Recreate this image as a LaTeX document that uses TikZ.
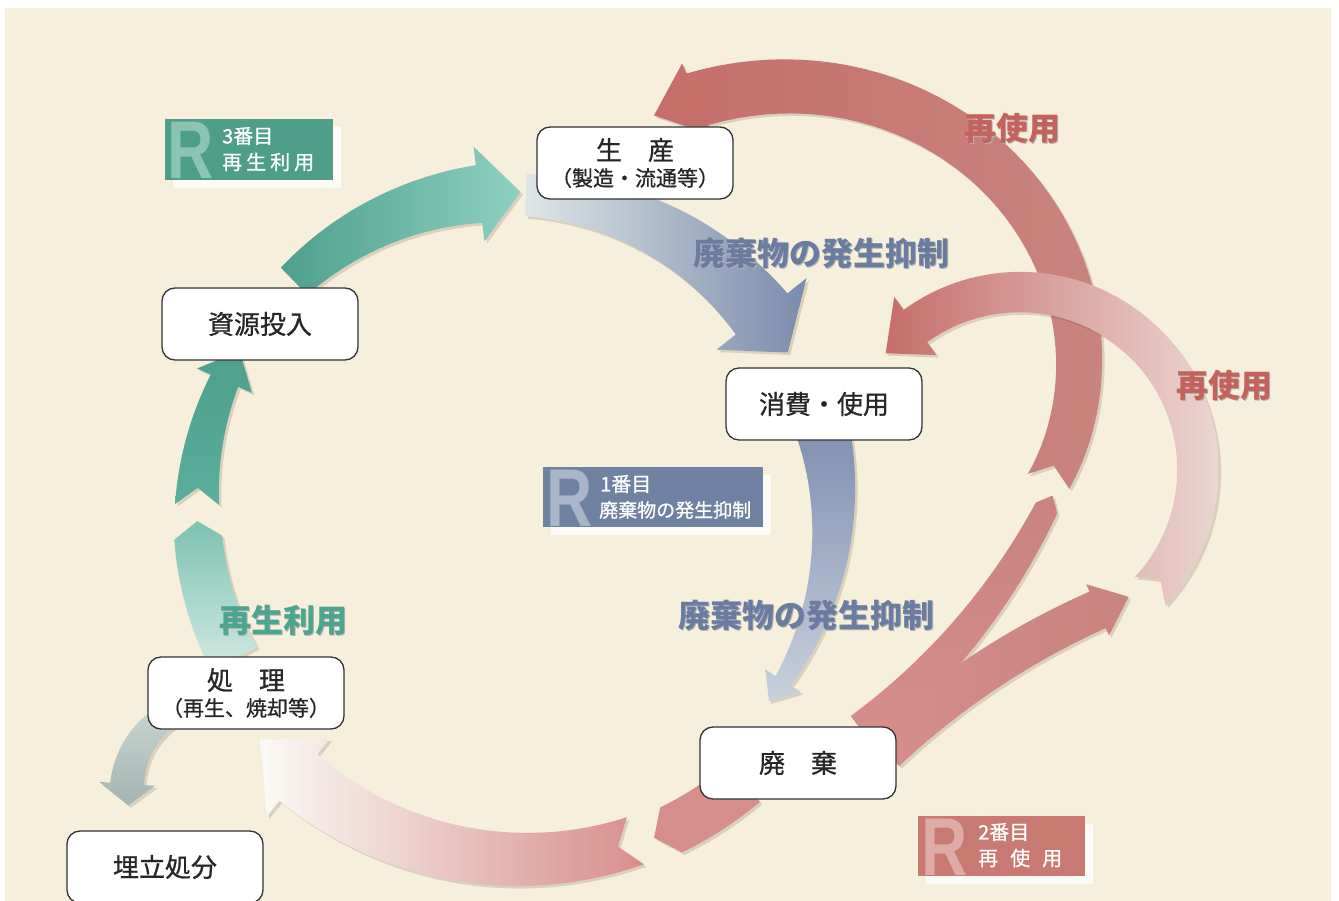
\documentclass[tikz,border=0pt]{standalone}
\usepackage{fontspec}
\newfontfamily\jp{Noto Sans CJK JP}
\newfontfamily\jpm{Noto Sans CJK JP}[FakeBold=0.8]
\newfontfamily\rfont{Liberation Sans}
\definecolor{bg}{HTML}{F6EFDB}
\definecolor{gA}{HTML}{4E9F8C}
\definecolor{gB}{HTML}{8FD0C2}
\definecolor{gC}{HTML}{5AAE9C}
\definecolor{gD}{HTML}{7CC2B2}
\definecolor{gE}{HTML}{D3EAE2}
\definecolor{bA}{HTML}{7A8BAC}
\definecolor{bB}{HTML}{DDE6E6}
\definecolor{bC}{HTML}{C9D1DE}
\definecolor{rA}{HTML}{C66E6A}
\definecolor{rB}{HTML}{E8CCC8}
\definecolor{rC}{HTML}{C9847E}
\definecolor{rD}{HTML}{D68E8A}
\definecolor{rE}{HTML}{EBD6D1}
\definecolor{rW}{HTML}{FBFAF6}
\definecolor{grA}{HTML}{C9D6D2}
\definecolor{grB}{HTML}{A3B5B1}
\definecolor{lblR}{HTML}{C4625C}
\definecolor{lblB}{HTML}{6A7CA0}
\definecolor{lblG}{HTML}{4DA590}
\definecolor{box3}{HTML}{4E9E8A}
\definecolor{box3l}{HTML}{8CC4B4}
\definecolor{box1}{HTML}{6F82A2}
\definecolor{box1l}{HTML}{A9B5C9}
\definecolor{box2}{HTML}{C87A72}
\definecolor{box2l}{HTML}{DEACA5}
% band arrow: cx cy r0 r1 a b w0 w1 style ; globals \Hl (head angle), \Hw (head width), \Nt (tail notch angle)
\def\Hl{5}\def\Hw{60}\def\Nt{0}
\newcommand\band[9]{%
  \pgfmathsetmacro\Bb{(#6>#5) ? (#6-\Hl) : (#6+\Hl)}%
  \pgfmathsetmacro\Ta{(#6>#5) ? (#5+\Nt) : (#5-\Nt)}%
  \pgfmathsetmacro\Dr{((#4)-(#3))/((#6)-(#5))}%
  \pgfmathsetmacro\Dw{((#8)-(#7))/(\Bb-(#5))}%
  \pgfmathsetmacro\Rb{(#3)+\Dr*(\Bb-(#5))}%
  \path[#9] plot[variable=\t,domain=#5:\Bb,samples=50]
     ({#1+((#3)+\Dr*(\t-(#5))+((#7)+\Dw*(\t-(#5)))/2)*cos(\t)},{#2+((#3)+\Dr*(\t-(#5))+((#7)+\Dw*(\t-(#5)))/2)*sin(\t)})
   -- ({#1+(\Rb+\Hw/2)*cos(\Bb)},{#2+(\Rb+\Hw/2)*sin(\Bb)})
   -- ({#1+(#4)*cos(#6)},{#2+(#4)*sin(#6)})
   -- ({#1+(\Rb-\Hw/2)*cos(\Bb)},{#2+(\Rb-\Hw/2)*sin(\Bb)})
   -- plot[variable=\t,domain=\Bb:#5,samples=50]
     ({#1+((#3)+\Dr*(\t-(#5))-((#7)+\Dw*(\t-(#5)))/2)*cos(\t)},{#2+((#3)+\Dr*(\t-(#5))-((#7)+\Dw*(\t-(#5)))/2)*sin(\t)})
   -- ({#1+(#3)*cos(\Ta)},{#2+(#3)*sin(\Ta)}) -- cycle;
}
\begin{document}
\begin{tikzpicture}[x=1pt,y=-1pt,
  box/.style={draw=black!80, line width=1.3pt, rounded corners=13pt, fill=white,
    minimum width=196pt, minimum height=72pt, align=center, inner sep=0pt,
    font=\jpm\fontsize{26}{30}\selectfont, text=black!85},
  lbl/.style={font=\jp\bfseries\fontsize{32}{36}\selectfont, inner sep=0pt},
  lblsh/.style={lbl, text=black!30},
  rbox/.style={minimum width=168pt, minimum height=61pt, inner sep=0pt},
  rlet/.style={font=\rfont\bfseries\fontsize{82}{82}\selectfont, inner sep=0pt, anchor=base west},
  rtxt/.style={font=\jpm\fontsize{20}{23}\selectfont, text=white, inner sep=0pt, anchor=west},
  shd/.style={preaction={fill=black!60!brown, opacity=.16, transform canvas={shift={(2.5pt,-2.5pt)}}}},
]
\useasboundingbox (0,0) rectangle (1339,901);
\fill[white] (0,0) rectangle (1339,901);
\fill[bg] (5,8) rectangle (1331,901);

% ---- bottom red (waste -> treatment)
\def\Hl{3}\def\Hw{50}\def\Nt{0}
\band{515}{510}{356}{356}{50}{67}{50}{50}{shd, fill=rD}
\def\Hl{9}\def\Hw{100}\def\Nt{3}
\band{515}{510}{352}{343}{70}{138}{50}{60}{shd, shade, left color=rW, right color=rD}

% ---- blue arrows
\def\Hl{8.5}\def\Hw{115}\def\Nt{0}
\band{515}{510}{315}{315}{272}{330}{42}{66}{shd, shade, left color=bB, right color=bA}
\def\Hl{4.5}\def\Hw{42}\def\Nt{0}
\band{515}{510}{318}{318}{343}{397}{56}{18}{shd, shade, top color=bA, bottom color=bC}

% ---- green arrows
\def\Hl{3}\def\Hw{48}\def\Nt{0}
\band{515}{510}{318}{318}{152}{178}{52}{48}{shd, shade, top color=gD, bottom color=gE}
\def\Hl{6}\def\Hw{60}\def\Nt{3}
\band{515}{510}{318}{318}{181}{210}{44}{30}{shd, shade, top color=gA, bottom color=gC}
\def\Hl{7.5}\def\Hw{95}\def\Nt{0}
\band{515}{510}{318}{318}{226}{271}{38}{58}{shd, shade, left color=gA, right color=gB}

% ---- gray arrow (treatment -> landfill)
\def\Hl{14}\def\Hw{56}\def\Nt{0}
\band{215}{790}{88}{88}{238}{170}{26}{34}{shd, shade, top color=grA, bottom color=grB}

% ---- R1 (top reuse)
\def\Hl{8}\def\Hw{78}\def\Nt{4}
\band{825}{400}{238}{332}{20}{-121}{44}{56}{shd, shade, left color=rA, middle color=rB, right color=rC}
\def\Hl{1.2}\def\Hw{24}\def\Nt{0}
\band{456}{211}{661}{661}{52}{25.5}{40}{24}{shd, shade, top color=rC, bottom color=rD}

% ---- R2 (right reuse)
\def\Hl{13}\def\Hw{72}\def\Nt{5}
\band{1020}{470}{178}{178}{43}{-139}{42}{40}{shd, shade, left color=rA, right color=rE}
\def\Hl{2.5}\def\Hw{56}\def\Nt{0}
\band{1412}{1316}{773}{773}{-133}{-111.5}{42}{40}{shd, shade, left color=rD, right color=rC}

% ---- labels
\node[lblsh] (l1s) at (1013.5,129.5) {再使用};
\node[lbl, text=lblR] (l1) at (1012,128) {再使用};
\node[lblsh] (l2s) at (1225.5,386.5) {再使用};
\node[lbl, text=lblR] (l2) at (1224,385) {再使用};
\node[lblsh] (l3s) at (822.5,254.5) {廃棄物の発生抑制};
\node[lbl, text=lblB] (l3) at (821,253) {廃棄物の発生抑制};
\node[lblsh] (l4s) at (807.5,616.5) {廃棄物の発生抑制};
\node[lbl, text=lblB] (l4) at (806,615) {廃棄物の発生抑制};
\node[lblsh] (l5s) at (284.5,621.5) {再生利用};
\node[lbl, text=lblG] (l5) at (283,620) {再生利用};

% ---- R boxes
\fill[white, opacity=.8] (173,127) rectangle (341,188);
\node[rbox, fill=box3] (r3) at (249,149.5) {};
\node[rlet, text=box3l] (r3R) at (167,179) {\scalebox{0.78}[1]{R}};
\node[rtxt] (r3a) at (222,136) {3番目};
\node[rtxt] (r3b) at (222,162) {再\kern4pt 生\kern4pt 利\kern4pt 用};

\fill[white, opacity=.8] (551,475) rectangle (771,535);
\node[rbox, fill=box1, minimum width=220pt, minimum height=60pt] (r1) at (653,497) {};
\node[rlet, text=box1l] (r1R) at (546,526) {\scalebox{0.78}[1]{R}};
\node[rtxt] (r1a) at (600,484) {1番目};
\node[rtxt, font=\jpm\fontsize{19}{22}\selectfont] (r1b) at (599,510) {廃棄物の発生抑制};

\fill[white, opacity=.8] (926,824) rectangle (1093,884);
\node[rbox, fill=box2, minimum width=167pt, minimum height=60pt] (r2) at (1001.5,846) {};
\node[rlet, text=box2l] (r2R) at (921,875) {\scalebox{0.78}[1]{R}};
\node[rtxt] (r2a) at (978,832) {2番目};
\node[rtxt] (r2b) at (978,858) {再\kern12pt 使\kern12pt 用};

% ---- process nodes
\node[box] (seisan) at (635,163) {生\hspace{1em}産\\[-4pt]{\fontsize{21}{24}\selectfont （製造・流通等）}};
\node[box] (shigen) at (260,324) {資源投入};
\node[box] (shohi) at (824,404) {消費・使用};
\node[box] (shori) at (246,693) {処\hspace{1em}理\\[-4pt]{\fontsize{21}{24}\selectfont （再生、焼却等）}};
\node[box] (haiki) at (798,763) {廃\hspace{1em}棄};
\node[box] (umetate) at (165,867) {埋立処分};
\end{tikzpicture}
\end{document}
